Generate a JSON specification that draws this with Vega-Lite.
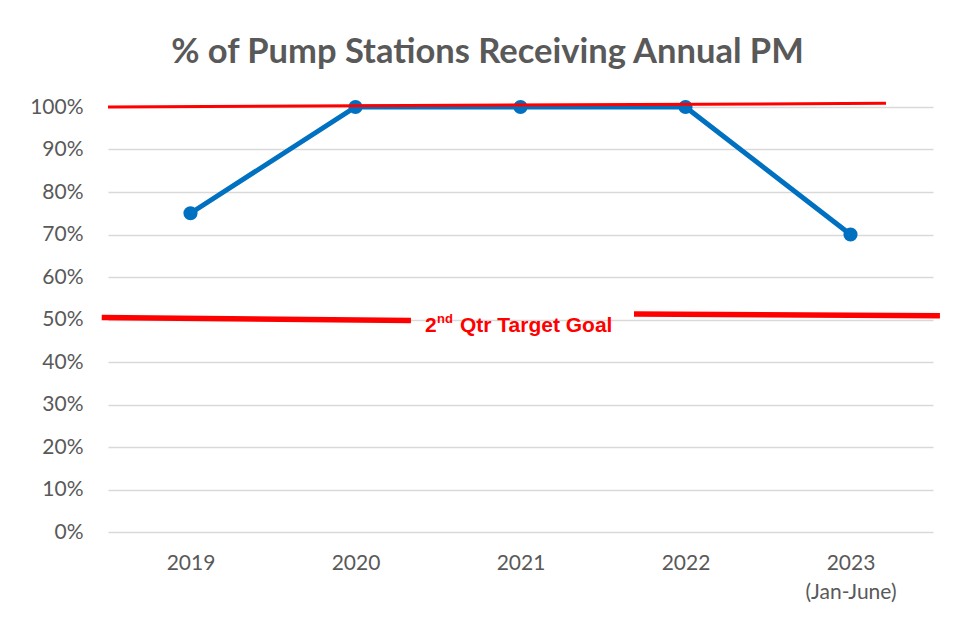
{
  "$schema": "https://vega.github.io/schema/vega-lite/v6.json",
  "width": 825,
  "height": 425,
  "autosize": {"type": "none"},
  "padding": {"left": 108, "top": 107, "right": 30, "bottom": 86},
  "background": "white",
  "config": {"view": {"stroke": null}},
  "title": {
    "text": "% of Pump Stations Receiving Annual PM",
    "font": "Lato",
    "fontSize": 34.5,
    "fontWeight": "bold",
    "color": "#595959",
    "anchor": "middle",
    "frame": "group",
    "baseline": "alphabetic",
    "dx": -33,
    "dy": 3,
    "offset": 2
  },
  "datasets": {
    "pm": [
      {"idx": 0, "year": "2019", "pct": 0.75},
      {"idx": 1, "year": "2020", "pct": 1.0},
      {"idx": 2, "year": "2021", "pct": 1.0},
      {"idx": 3, "year": "2022", "pct": 1.0},
      {"idx": 4, "year": "2023 (Jan-June)", "pct": 0.7}
    ],
    "targets": [
      {"kind": "top", "x1": -0.5, "y1": 1.0, "x2": 4.215, "y2": 1.0087},
      {"kind": "goal", "x1": -0.538, "y1": 0.5045, "x2": 1.336, "y2": 0.4975},
      {"kind": "goal", "x1": 2.688, "y1": 0.5132, "x2": 4.542, "y2": 0.5089}
    ],
    "note": [
      {"x": 1.421, "y": 0.4706}
    ]
  },
  "layer": [
    {
      "data": {"name": "pm"},
      "mark": {"type": "line", "color": "#0070C0", "strokeWidth": 5, "clip": false},
      "encoding": {
        "x": {
          "field": "idx",
          "type": "quantitative",
          "scale": {"domain": [-0.5, 4.5], "nice": false, "zero": false},
          "axis": {
            "title": null,
            "values": [0, 1, 2, 3, 4],
            "labelExpr": "datum.value == 4 ? ['2023', '(Jan-June)'] : '' + (2019 + datum.value)",
            "labelFont": "Lato",
            "labelFontSize": 21,
            "labelColor": "#595959",
            "labelLineHeight": 29,
            "labelPadding": 20,
            "ticks": false,
            "domain": false,
            "grid": false
          }
        },
        "y": {
          "field": "pct",
          "type": "quantitative",
          "scale": {"domain": [0, 1], "nice": false},
          "axis": {
            "title": null,
            "values": [0, 0.1, 0.2, 0.3, 0.4, 0.5, 0.6, 0.7, 0.8, 0.9, 1.0],
            "format": ".0%",
            "labelFont": "Lato",
            "labelFontSize": 21,
            "labelColor": "#595959",
            "labelPadding": 25,
            "ticks": false,
            "domain": false,
            "grid": true,
            "gridColor": "#d9d9d9",
            "gridWidth": 1.5
          }
        }
      }
    },
    {
      "data": {"name": "pm"},
      "mark": {"type": "point", "filled": true, "shape": "circle", "size": 200, "color": "#0070C0", "opacity": 1, "clip": false},
      "encoding": {
        "x": {"field": "idx", "type": "quantitative"},
        "y": {"field": "pct", "type": "quantitative"}
      }
    },
    {
      "data": {"name": "targets"},
      "transform": [{"filter": "datum.kind == 'top'"}],
      "mark": {"type": "rule", "color": "#FF0000", "strokeWidth": 3, "clip": false},
      "encoding": {
        "x": {"field": "x1", "type": "quantitative"},
        "x2": {"field": "x2"},
        "y": {"field": "y1", "type": "quantitative"},
        "y2": {"field": "y2"}
      }
    },
    {
      "data": {"name": "targets"},
      "transform": [{"filter": "datum.kind == 'goal'"}],
      "mark": {"type": "rule", "color": "#FF0000", "strokeWidth": 5.5, "clip": false},
      "encoding": {
        "x": {"field": "x1", "type": "quantitative"},
        "x2": {"field": "x2"},
        "y": {"field": "y1", "type": "quantitative"},
        "y2": {"field": "y2"}
      }
    },
    {
      "data": {"name": "note"},
      "mark": {"type": "text", "text": "2", "font": "Liberation Sans", "fontSize": 21, "fontWeight": "bold", "color": "#FF0000", "align": "left", "baseline": "alphabetic", "clip": false},
      "encoding": {
        "x": {"field": "x", "type": "quantitative"},
        "y": {"field": "y", "type": "quantitative"}
      }
    },
    {
      "data": {"name": "note"},
      "mark": {"type": "text", "text": "nd", "font": "Liberation Sans", "fontSize": 13, "fontWeight": "bold", "color": "#FF0000", "align": "left", "baseline": "alphabetic", "dx": 12, "dy": -9, "clip": false},
      "encoding": {
        "x": {"field": "x", "type": "quantitative"},
        "y": {"field": "y", "type": "quantitative"}
      }
    },
    {
      "data": {"name": "note"},
      "mark": {"type": "text", "text": "Qtr Target Goal", "font": "Liberation Sans", "fontSize": 21, "fontWeight": "bold", "color": "#FF0000", "align": "left", "baseline": "alphabetic", "dx": 35, "clip": false},
      "encoding": {
        "x": {"field": "x", "type": "quantitative"},
        "y": {"field": "y", "type": "quantitative"}
      }
    }
  ]
}
